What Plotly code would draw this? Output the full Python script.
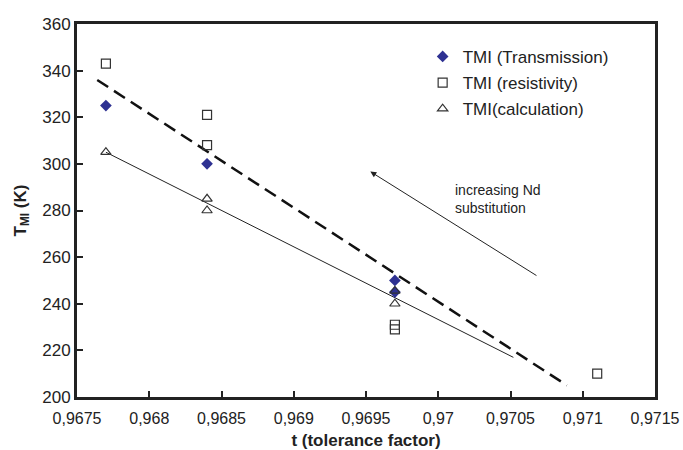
import plotly.graph_objects as go

# ---- data ----
trans_t = [0.9677, 0.9684, 0.9697, 0.9697]
trans_T = [325, 300, 250, 245]

resist_t = [0.9677, 0.9684, 0.9684, 0.9697, 0.9697, 0.9711]
resist_T = [343, 321, 308, 231, 229, 210]

calc_t = [0.9677, 0.9684, 0.9684, 0.9697, 0.9697]
calc_T = [305, 285, 280, 245.5, 240]

fit_dashed_t = [0.96764, 0.97089]
fit_dashed_T = [336, 205]

fit_solid_t = [0.9677, 0.97052]
fit_solid_T = [305, 217]

arrow_head = (0.96953, 296.7)
arrow_tail = (0.97069, 251.7)
note_pos = (0.97010, 285)

x_ticks = [0.9675, 0.968, 0.9685, 0.969, 0.9695, 0.97, 0.9705, 0.971, 0.9715]
x_tick_labels = ["0,9675", "0,968", "0,9685", "0,969", "0,9695", "0,97", "0,9705", "0,971", "0,9715"]
y_ticks = [200, 220, 240, 260, 280, 300, 320, 340, 360]

FONT = "Arial, Liberation Sans, sans-serif"

fig = go.Figure()

fig.add_trace(go.Scatter(
    x=fit_dashed_t, y=fit_dashed_T, mode="lines",
    line=dict(color="#111111", width=2.5, dash="13px,7px"),
    showlegend=False, hoverinfo="skip"))
fig.add_trace(go.Scatter(
    x=fit_solid_t, y=fit_solid_T, mode="lines",
    line=dict(color="#222222", width=1),
    showlegend=False, hoverinfo="skip"))

fig.add_trace(go.Scatter(
    x=trans_t, y=trans_T, mode="markers", name="TMI (Transmission)",
    legendgroup="a",
    marker=dict(symbol="diamond", size=9, color="#2E3192",
                line=dict(width=0))))
fig.add_trace(go.Scatter(
    x=resist_t, y=resist_T, mode="markers", name="TMI (resistivity)",
    legendgroup="b",
    marker=dict(symbol="square-open", size=9, color="#333333",
                line=dict(width=1.2))))
fig.add_trace(go.Scatter(
    x=calc_t, y=calc_T, mode="markers", name="TMI(calculation)",
    legendgroup="c",
    marker=dict(symbol="triangle-up-open", size=9, color="#333333",
                line=dict(width=1.2))))

fig.add_annotation(
    x=arrow_head[0], y=arrow_head[1], ax=arrow_tail[0], ay=arrow_tail[1],
    xref="x", yref="y", axref="x", ayref="y",
    text="", showarrow=True, arrowhead=2, arrowsize=1.2, arrowwidth=1,
    arrowcolor="#222222")
fig.add_annotation(
    x=note_pos[0], y=note_pos[1], xref="x", yref="y",
    text="increasing Nd<br>substitution", showarrow=False,
    xanchor="left", yanchor="middle", align="left",
    font=dict(family=FONT, size=14, color="#222222"))

axis_common = dict(
    showgrid=False, zeroline=False, showline=True, linewidth=3,
    linecolor="#222222", mirror=True, ticks="inside", ticklen=6,
    tickwidth=1.5, tickcolor="#222222", automargin=False)

fig.update_xaxes(
    range=[0.9675, 0.9715], tickvals=x_ticks, ticktext=x_tick_labels,
    tickfont=dict(family=FONT, size=16, color="#222222"),
    ticklabelstandoff=5,
    title=dict(text="<b>t (tolerance factor)</b>", standoff=15,
               font=dict(family=FONT, size=17, color="#222222")),
    **axis_common)
fig.update_yaxes(
    range=[200, 360], tickvals=y_ticks,
    tickfont=dict(family=FONT, size=17, color="#222222"),
    title=dict(text="<b>T<sub>MI</sub> (K)</b>", standoff=12,
               font=dict(family=FONT, size=17, color="#222222")),
    **axis_common)

fig.update_layout(
    width=683, height=450,
    margin=dict(l=77, r=28, t=24, b=53),
    plot_bgcolor="white", paper_bgcolor="white",
    font=dict(family=FONT, color="#222222"),
    legend=dict(x=0.598, y=0.96, xanchor="left", yanchor="top",
                bgcolor="rgba(0,0,0,0)", traceorder="grouped",
                tracegroupgap=1, itemwidth=30,
                font=dict(family=FONT, size=17, color="#222222")),
)

fig.write_html("out.html",
               config={"displayModeBar": False},
               post_script="document.body.style.margin='0';")
